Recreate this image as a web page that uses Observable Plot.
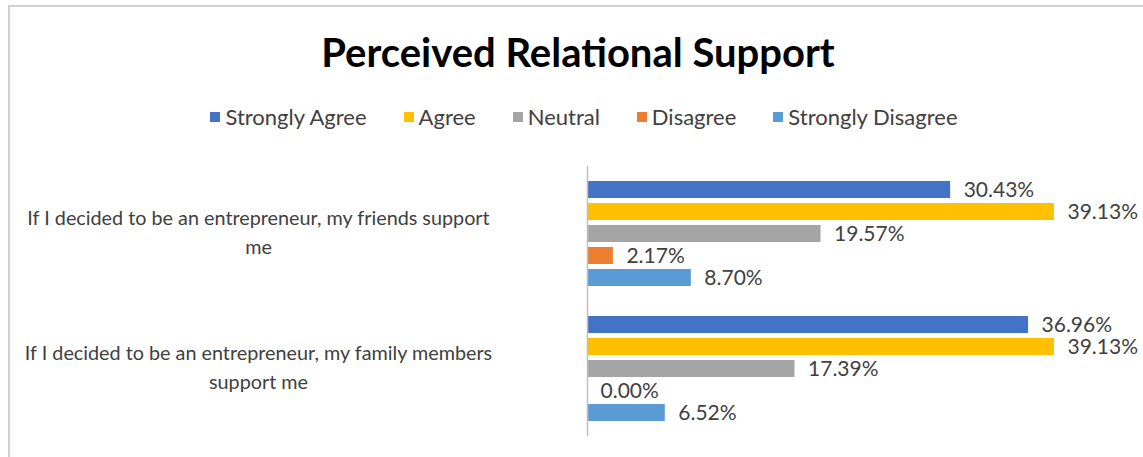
<!DOCTYPE html>
<html>
<head>
<meta charset="utf-8">
<script src="https://cdn.jsdelivr.net/npm/d3@7"></script>
<script src="https://cdn.jsdelivr.net/npm/@observablehq/plot@0.6"></script>
<style>
  html, body { margin: 0; padding: 0; background: #fff; }
  body { width: 1143px; height: 457px; position: relative; overflow: hidden; font-family: Lato, "Open Sans", sans-serif; }
  #frame { position: absolute; left: 8px; top: 5px; width: 1200px; height: 500px; border-left: 2px solid #d0d0d0; border-top: 2px solid #d0d0d0; }
  #title { position: absolute; left: 0; top: 27px; width: 1156px; text-align: center; font-size: 40px; font-weight: 700; color: #000; line-height: 50px; }
  #legend { position: absolute; left: 0; top: 104px; width: 1168px; display: flex; justify-content: center; gap: 37px; font-size: 22px; color: #404040; line-height: 26px; }
  #legend .item { display: flex; align-items: center; }
  #legend .sw { width: 10px; height: 10px; margin-right: 5px; }
  #chart { position: absolute; left: 0; top: 150px; }
</style>
</head>
<body>
<div id="frame"></div>
<div id="title"></div>
<div id="legend"></div>
<div id="chart"></div>
<script>
const titleText = "Perceived Relational Support";
const questions = [
  "If I decided to be an entrepreneur, my friends support me",
  "If I decided to be an entrepreneur, my family members support me"
];
const questionLabels = [
  "If I decided to be an entrepreneur, my friends support\nme",
  "If I decided to be an entrepreneur, my family members\nsupport me"
];
const series = ["Strongly Agree", "Agree", "Neutral", "Disagree", "Strongly Disagree"];
const colors = ["#4472c4", "#ffc000", "#a5a5a5", "#ed7d31", "#5b9bd5"];
const friendsValues = [30.43, 39.13, 19.57, 2.17, 8.70];
const familyValues = [36.96, 39.13, 17.39, 0.00, 6.52];

const data = [];
[friendsValues, familyValues].forEach((vals, qi) => {
  vals.forEach((v, si) => data.push({q: questions[qi], s: series[si], v}));
});

document.getElementById("title").textContent = titleText;
const legend = document.getElementById("legend");
series.forEach((s, i) => {
  const item = document.createElement("div");
  item.className = "item";
  const sw = document.createElement("span");
  sw.className = "sw";
  sw.style.background = colors[i];
  const t = document.createElement("span");
  t.textContent = s;
  item.appendChild(sw);
  item.appendChild(t);
  legend.appendChild(item);
});

const chart = Plot.plot({
  width: 1143,
  height: 300,
  marginLeft: 587,
  marginRight: 19,
  marginTop: 15,
  marginBottom: 14,
  style: {fontFamily: "Lato, 'Open Sans', sans-serif", background: "transparent"},
  x: {domain: [0, 45], axis: null},
  y: {domain: series, axis: null, paddingInner: 0.24, paddingOuter: 0.66},
  fy: {domain: questions, axis: null, padding: 0},
  color: {domain: series, range: colors},
  marks: [
    Plot.barX(data, {fy: "q", y: "s", x: "v", fill: "s"}),
    Plot.ruleX([0], {stroke: "#bfbfbf", strokeWidth: 1.5}),
    Plot.text(data, {
      fy: "q", y: "s", x: "v",
      text: d => d.v.toFixed(2) + "%",
      dx: 13, textAnchor: "start", fontSize: 21, fill: "#404040"
    }),
    Plot.text(questions, {
      fy: d => d,
      text: d => questionLabels[questions.indexOf(d)],
      frameAnchor: "left",
      dx: -329,
      dy: -4,
      textAnchor: "middle",
      lineHeight: 1.47,
      fontSize: 19.8,
      fill: "#404040"
    })
  ]
});
document.getElementById("chart").appendChild(chart);
</script>
</body>
</html>
